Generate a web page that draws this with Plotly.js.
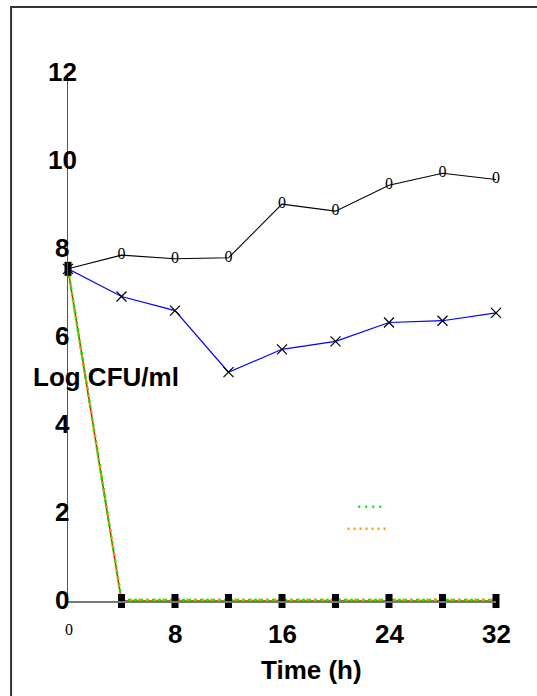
<!DOCTYPE html>
<html>
<head>
<meta charset="utf-8">
<script src="https://cdn.plot.ly/plotly-3.0.1.min.js"></script>
<style>html,body{margin:0;padding:0;background:#fff;}#chart{width:537px;height:696px;}</style>
</head>
<body>
<div id="chart"></div>
<script>
// Time points (h)
var timeH = [0, 4, 8, 12, 16, 20, 24, 28, 32];
// Series values (log CFU/ml)
var controlO = [7.55, 7.86, 7.78, 7.8, 9.02, 8.86, 9.45, 9.72, 9.58];
var seriesX = [7.55, 6.92, 6.6, 5.2, 5.72, 5.9, 6.33, 6.37, 6.55];
var seriesRed = [7.55, 0, 0, 0, 0, 0, 0, 0, 0];
var seriesGreen = [7.55, 0.02, 0.02, 0.02, 0.02, 0.02, 0.02, 0.02, 0.02];
var seriesOrange = [7.55, 0.03, 0.03, 0.03, 0.03, 0.03, 0.03, 0.03, 0.03];
// Tick labels
var yTickVals = [0, 2, 4, 6, 8, 10, 12];
var yTickText = ['0', '2', '4', '6', '8', '10', '12'];
var xTickVals = [8, 16, 24, 32];
var xTickText = ['8', '16', '24', '32'];
var xZeroLabel = '0';

var bold = {family: 'Liberation Sans, Arial, sans-serif', size: 26, color: '#000', weight: 'bold'};

var traces = [
  {x: timeH, y: seriesRed, mode: 'lines', line: {color: '#dd1111', width: 1.5}, cliponaxis: false, showlegend: false},
  {x: timeH, y: seriesGreen, mode: 'lines', line: {color: '#00ee00', width: 2.5, dash: 'dot'}, cliponaxis: false, showlegend: false},
  {x: timeH, y: seriesOrange, mode: 'lines', line: {color: '#ff9900', width: 2.5, dash: '2px,6px'}, cliponaxis: false, showlegend: false},
  {x: timeH, y: controlO, mode: 'lines+text', text: controlO.map(function(v, i){return i === 0 ? '' : '0';}),
   textposition: 'middle center', textfont: {family: 'Liberation Serif, Times New Roman, serif', size: 16, color: '#000'},
   line: {color: '#000', width: 1.1}, cliponaxis: false, showlegend: false},
  {x: timeH, y: seriesX, mode: 'lines+markers', line: {color: '#0000ff', width: 1.2},
   marker: {symbol: 'x-thin-open', size: 10, color: '#000', line: {color: '#000', width: 1.2}}, cliponaxis: false, showlegend: false},
  {x: timeH, y: seriesRed, mode: 'markers', marker: {symbol: 'line-ns', size: 10, color: '#000', line: {color: '#000', width: 7}}, cliponaxis: false, showlegend: false}
];

var annotations = [];
yTickVals.forEach(function(v, i){
  annotations.push({x: 0, y: v, xref: 'x', yref: 'y', text: '<b>' + yTickText[i] + '</b>', showarrow: false,
    xanchor: 'center', yanchor: 'middle', xshift: -6, yshift: 1, font: bold});
});
xTickVals.forEach(function(v, i){
  annotations.push({x: v, y: 0, xref: 'x', yref: 'y', text: '<b>' + xTickText[i] + '</b>', showarrow: false,
    xanchor: 'center', yanchor: 'middle', yshift: -33, font: bold});
});
annotations.push({x: 0, y: 0, xref: 'x', yref: 'y', text: xZeroLabel, showarrow: false, xanchor: 'center', yanchor: 'middle',
  yshift: -28, xshift: 1, font: {family: 'Liberation Serif, Times New Roman, serif', size: 16, color: '#000'}});
annotations.push({x: 0.088, y: 0.425, xref: 'paper', yref: 'paper', text: '<b>Log CFU/ml</b>', showarrow: false,
  xanchor: 'center', yanchor: 'middle', font: {family: 'Liberation Sans, Arial, sans-serif', size: 26, color: '#000'}});
annotations.push({x: 0.57, y: -0.13, xref: 'paper', yref: 'paper', text: '<b>Time (h)</b>', showarrow: false,
  xanchor: 'center', yanchor: 'middle', font: {family: 'Liberation Sans, Arial, sans-serif', size: 26, color: '#000'}});

var layout = {
  width: 537, height: 696,
  margin: {l: 68, r: 41, t: 73, b: 95, pad: 0},
  paper_bgcolor: '#fff', plot_bgcolor: '#fff',
  showlegend: false,
  xaxis: {range: [0, 32], showgrid: false, zeroline: false, showline: true, linecolor: '#777', linewidth: 1.5,
    showticklabels: false, ticks: '', fixedrange: true},
  yaxis: {range: [0, 12], showgrid: false, zeroline: false, showline: true, linecolor: '#555', linewidth: 1.3,
    showticklabels: false, ticks: '', fixedrange: true},
  annotations: annotations,
  shapes: [
    {type: 'rect', xref: 'paper', yref: 'paper', x0: -0.133, x1: 1.3, y0: -0.3, y1: 1.125,
     line: {color: '#333', width: 2}, fillcolor: 'rgba(0,0,0,0)', layer: 'below'},
    {type: 'line', xref: 'x', yref: 'y', x0: 21.7, x1: 23.6, y0: 2.14, y1: 2.14, line: {color: '#00ee00', width: 2.5, dash: '2px,5px'}},
    {type: 'line', xref: 'x', yref: 'y', x0: 20.9, x1: 23.8, y0: 1.64, y1: 1.64, line: {color: '#ff9900', width: 2.5, dash: '2px,4px'}}
  ]
};

Plotly.newPlot('chart', traces, layout, {staticPlot: true, displayModeBar: false});
</script>
</body>
</html>
